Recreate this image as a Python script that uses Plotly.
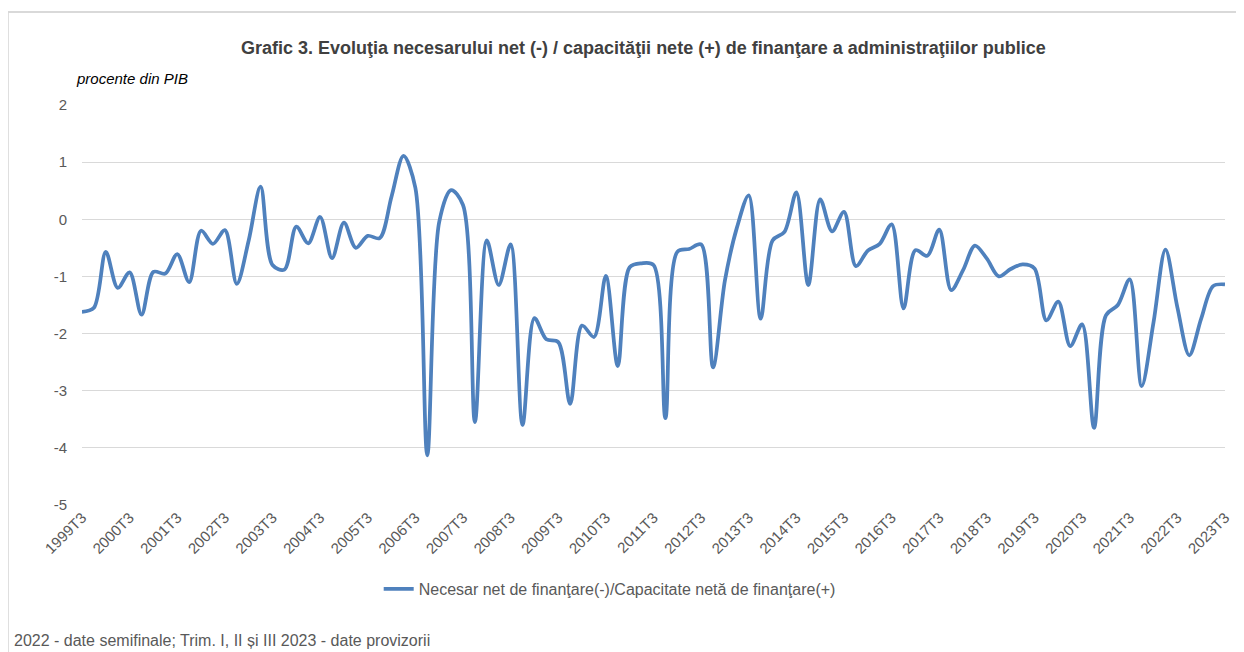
import plotly.graph_objects as go

# quarterly data, 1999T3 .. 2023T3
years = list(range(1999, 2024))
quarters = []
for y in range(1999, 2024):
    for q in (1, 2, 3, 4):
        if (y == 1999 and q < 3) or (y == 2023 and q > 3):
            continue
        quarters.append(f"{y}T{q}")

values = [
    -1.62, -1.55, -0.57, -1.20, -0.93, -1.67, -0.92, -0.95, -0.61, -1.10,
    -0.20, -0.43, -0.19, -1.13, -0.37, 0.57, -0.80, -0.88, -0.13, -0.42,
    0.04, -0.68, -0.06, -0.50, -0.29, -0.33, 0.40, 1.11, 0.55, -4.13,
    -0.05, 0.51, 0.25, -3.55, -0.37, -1.15, -0.44, -3.60, -1.73, -2.10,
    -2.15, -3.23, -1.86, -2.06, -0.99, -2.57, -0.84, -0.77, -0.80, -3.48,
    -0.57, -0.52, -0.44, -2.59, -1.07, -0.15, 0.42, -1.74, -0.37, -0.22,
    0.47, -1.15, 0.35, -0.21, 0.13, -0.82, -0.55, -0.43, -0.09, -1.56,
    -0.54, -0.64, -0.18, -1.24, -0.89, -0.46, -0.69, -1.00, -0.87, -0.79,
    -0.86, -1.77, -1.44, -2.22, -1.84, -3.65, -1.68, -1.50, -1.05, -2.92,
    -1.80, -0.53, -1.54, -2.38, -1.74, -1.17, -1.14,
]

tick_labels = [f"{y}T3" for y in years]
y_ticks = [2, 1, 0, -1, -2, -3, -4, -5]
y_tick_text = [str(v) for v in y_ticks]

series_name = "Necesar net de finanţare(-)/Capacitate netă de finanţare(+)"
title_text = "Grafic 3. Evoluţia necesarului net (-) / capacităţii nete (+) de finanţare a administraţiilor publice"
y_title = "procente din PIB"
footnote = "2022 - date semifinale; Trim. I, II și III 2023 - date provizorii"

OFF = 8  # page body margin
W, H = 1244 - OFF, 652 - OFF
L, T = 82 - OFF, 105 - OFF
PW, PH = 1148, 400
R = W - L - PW
B = H - T - PH

def px(x):
    return (x - OFF - L) / PW

def py(y):
    return (H - B - (y - OFF)) / PH

FONT = "Liberation Sans"
GRAY = "#595959"

x_idx = list(range(len(quarters)))
tick_idx = [quarters.index(t) for t in tick_labels]

fig = go.Figure()
fig.add_trace(go.Scatter(
    x=x_idx, y=values, mode="lines", name=series_name,
    line=dict(color="#4F81BD", width=3.75, shape="spline", smoothing=0.9),
    customdata=quarters,
    hovertemplate="%{customdata}: %{y}<extra></extra>",
))

fig.update_layout(
    width=W, height=H,
    margin=dict(l=L, r=R, t=T, b=B),
    paper_bgcolor="white", plot_bgcolor="white",
    font=dict(family=FONT, color=GRAY),
    showlegend=True,
    legend=dict(
        orientation="h", x=px(380), xanchor="left", y=py(589), yanchor="middle",
        font=dict(size=16, color=GRAY), bgcolor="rgba(0,0,0,0)",
    ),
    xaxis=dict(
        range=[0, len(quarters) - 1], tickmode="array", tickvals=tick_idx,
        ticktext=tick_labels, tickangle=-45, showgrid=False, zeroline=False,
        showline=False, ticks="", tickfont=dict(size=15, color=GRAY),
    ),
    yaxis=dict(
        range=[-5, 2], tickmode="array", tickvals=y_ticks, ticktext=y_tick_text,
        showgrid=True, gridcolor="#D9D9D9", gridwidth=1,
        zeroline=True, zerolinecolor="#D9D9D9", zerolinewidth=1,
        showline=False, ticks="", ticklabelstandoff=14,
        tickfont=dict(size=15, color=GRAY),
    ),
    annotations=[
        dict(text=f"<b>{title_text}</b>", xref="paper", yref="paper",
             x=px(646), y=py(48), xanchor="center", yanchor="middle",
             showarrow=False, font=dict(size=18, color="#404040", family=FONT)),
        dict(text=f"<i>{y_title}</i>", xref="paper", yref="paper",
             x=px(74), y=py(78), xanchor="left", yanchor="middle",
             showarrow=False, font=dict(size=15, color="#000000", family=FONT)),
        dict(text=footnote, xref="paper", yref="paper",
             x=px(12), y=py(640), xanchor="left", yanchor="middle",
             showarrow=False, font=dict(size=16, color=GRAY, family=FONT)),
    ],
    shapes=[
        dict(type="line", xref="paper", yref="paper", x0=px(7.5), x1=px(1260),
             y0=py(12), y1=py(12), line=dict(color="#D9D9D9", width=2)),
        dict(type="line", xref="paper", yref="paper", x0=px(7.5), x1=px(7.5),
             y0=py(12), y1=py(670), line=dict(color="#D9D9D9", width=2)),
    ],
)

fig.write_html("out.html")
